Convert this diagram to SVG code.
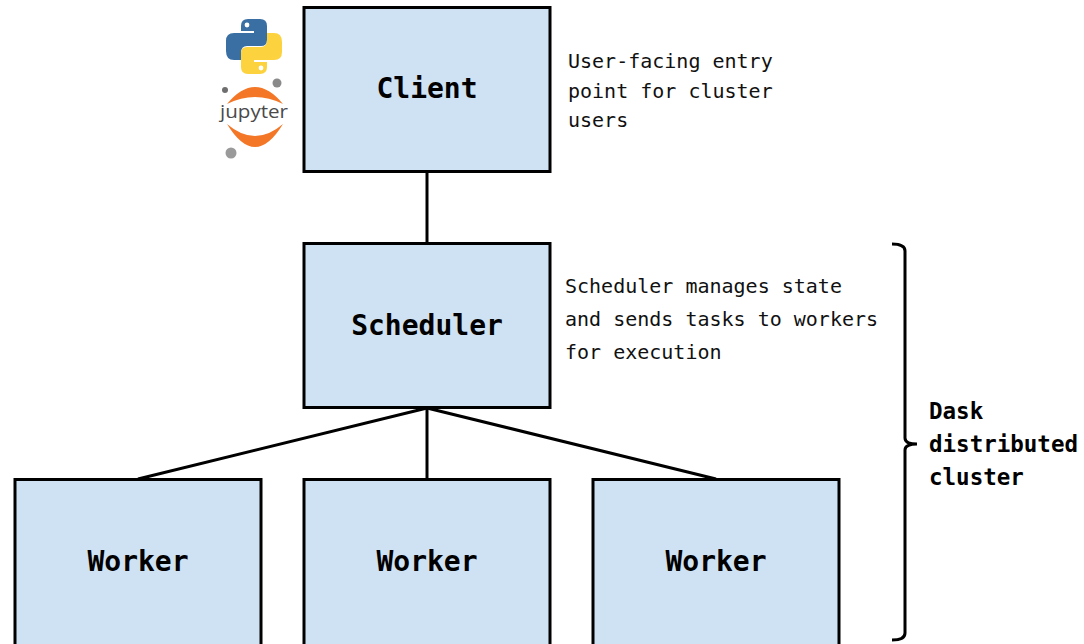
<svg xmlns="http://www.w3.org/2000/svg" width="1084" height="644" viewBox="0 0 1084 644">
<style>
.box{fill:#cfe2f3;stroke:#000;stroke-width:3}
.lbl{font-family:"DejaVu Sans Mono","Liberation Mono",monospace;font-weight:bold;font-size:28px;fill:#000;text-anchor:middle}
.desc{font-family:"DejaVu Sans Mono","Liberation Mono",monospace;font-size:20px;fill:#111}
.conn{stroke:#000;stroke-width:3;fill:none}
.dask{font-family:"DejaVu Sans Mono","Liberation Mono",monospace;font-weight:bold;font-size:22.5px;fill:#000}
</style>
<rect width="1084" height="644" fill="#fff"/>
<g id="connectors">
<line class="conn" x1="427" y1="172" x2="427" y2="243"/>
<line class="conn" x1="427" y1="408" x2="138" y2="479"/>
<line class="conn" x1="427" y1="408" x2="427" y2="479"/>
<line class="conn" x1="427" y1="408" x2="716" y2="479"/>
</g>
<g id="client">
<rect class="box" x="304" y="7.5" width="246" height="164"/>
<text class="lbl" x="427" y="98">Client</text>
</g>
<g id="scheduler">
<rect class="box" x="304" y="243.5" width="246" height="164"/>
<text class="lbl" x="427" y="335">Scheduler</text>
</g>
<g id="worker1">
<rect class="box" x="15" y="479.5" width="246" height="170"/>
<text class="lbl" x="138" y="571">Worker</text>
</g>
<g id="worker2">
<rect class="box" x="304" y="479.5" width="246" height="170"/>
<text class="lbl" x="427" y="571">Worker</text>
</g>
<g id="worker3">
<rect class="box" x="593" y="479.5" width="246" height="170"/>
<text class="lbl" x="716" y="571">Worker</text>
</g>
<g id="client-desc">
<text class="desc" x="568" y="68">User-facing entry</text>
<text class="desc" x="568" y="98">point for cluster</text>
<text class="desc" x="568" y="127">users</text>
</g>
<g id="scheduler-desc">
<text class="desc" x="565" y="293">Scheduler manages state</text>
<text class="desc" x="565" y="326">and sends tasks to workers</text>
<text class="desc" x="565" y="359">for execution</text>
</g>
<g id="cluster-brace">
<path class="conn" d="M892,244 Q905,244 905,251 L905,438 Q905,444 917,444 Q905,444 905,450 L905,633 Q905,640 892,640"/>
<text class="dask" x="929" y="419">Dask</text>
<text class="dask" x="929" y="452">distributed</text>
<text class="dask" x="929" y="485">cluster</text>
</g>
<g id="python-logo" transform="translate(226,19)">
<path fill="#3a6fa3" d="M22,0 H34 Q41,0 41,7 V21 Q41,27 35,27 H21 Q15,27 15,34 V41 H8 Q0,41 0,32 V22 Q0,14 8,14 H28 V12 H15 V7 Q15,0 22,0 Z"/>
<circle cx="21" cy="6" r="2.4" fill="#fff"/>
<g transform="rotate(180 28 27.5)">
<path fill="#fcd23f" d="M22,0 H34 Q41,0 41,7 V21 Q41,27 35,27 H21 Q15,27 15,34 V41 H8 Q0,41 0,32 V22 Q0,14 8,14 H28 V12 H15 V7 Q15,0 22,0 Z"/>
<circle cx="21" cy="6" r="2.4" fill="#fff"/>
</g>
</g>
<g id="jupyter-logo">
<circle cx="277" cy="83" r="4.5" fill="#8a8a8a"/>
<circle cx="225" cy="90" r="3" fill="#6e6e6e"/>
<circle cx="231" cy="153" r="5.5" fill="#9a9a9a"/>
<path fill="#f37726" d="M227,104 Q255,70 283,104 Q255,90 227,104 Z"/>
<path fill="#f37726" d="M227,124 Q255,170 283,124 Q255,148 227,124 Z"/>
<text x="254" y="118" font-family="'Open Sans','DejaVu Sans',sans-serif" font-size="19" fill="#4a4a4a" text-anchor="middle" textLength="68" lengthAdjust="spacingAndGlyphs">jupyter</text>
</g>
</svg>
